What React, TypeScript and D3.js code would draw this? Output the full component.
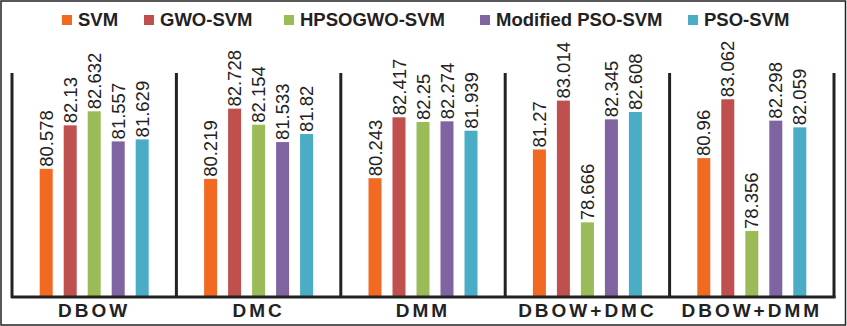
import React from "react";
import * as d3 from "d3";

const categories = ["DBOW", "DMC", "DMM", "DBOW+DMC", "DBOW+DMM"];
const seriesNames = ["SVM", "GWO-SVM", "HPSOGWO-SVM", "Modified PSO-SVM", "PSO-SVM"];
const colors = ["#F26A22", "#C0504D", "#9BBB59", "#8064A2", "#4BACC6"];
const svmValues = [80.578, 80.219, 80.243, 81.27, 80.96];
const gwoValues = [82.13, 82.728, 82.417, 83.014, 83.062];
const hpsogwoValues = [82.632, 82.154, 82.25, 78.666, 78.356];
const modPsoValues = [81.557, 81.533, 82.274, 82.345, 82.298];
const psoValues = [81.629, 81.82, 81.939, 82.608, 82.059];
const series = [svmValues, gwoValues, hpsogwoValues, modPsoValues, psoValues];
const yDomain = [76, 84];
const legendX = [62, 144, 284, 480, 688];

export default function App() {
  const W = 847, H = 326;
  const x0 = d3.scaleBand<string>().domain(categories).range([12, 834]).paddingInner(0).paddingOuter(0);
  const y = d3.scaleLinear().domain(yDomain).range([297, 73]);
  const barStep = 24, barW = 13;
  const font = "'Liberation Sans', Arial, Helvetica, sans-serif";
  return (
    <svg width={W} height={H} style={{ position: "absolute", left: 0, top: 0 }} fontFamily={font}>
      <rect x={0} y={0} width={W} height={H} fill="#fff" />
      <rect x={1} y={1} width={W - 2.5} height={H - 2} fill="none" stroke="#222" strokeWidth={1.5} />
      {/* legend */}
      {seriesNames.map((s, i) => (
        <g key={s}>
          <rect x={legendX[i]} y={15} width={10} height={10} fill={colors[i]} />
          <text x={legendX[i] + 16} y={26} fontSize={18.5} fontWeight="bold" fill="#222">{s}</text>
        </g>
      ))}
      {/* bars */}
      {categories.map((c, ci) => {
        const gx = x0(c)!;
        const gw = x0.bandwidth();
        const start = gx + gw / 2 - (barStep * 5 - (barStep - barW)) / 2;
        return (
          <g key={c}>
            {series.map((vals, si) => {
              const v = vals[ci];
              const bx = start + si * barStep;
              const by = y(v);
              return (
                <g key={si}>
                  <rect x={bx} y={by} width={barW} height={y(yDomain[0]) - by} fill={colors[si]} />
                  <text transform={`translate(${bx + barW / 2 + 6.5},${by - 2}) rotate(-90)`} fontSize={18.5} fill="#222">{String(v)}</text>
                </g>
              );
            })}
            <text x={gx + gw / 2} y={317} textAnchor="middle" fontSize={19} fontWeight="bold" letterSpacing={3} fill="#222">{c}</text>
          </g>
        );
      })}
      {/* dividers */}
      {[...categories.map((c) => x0(c)!), 834].map((xx, i) => (
        <line key={i} x1={xx} x2={xx} y1={73} y2={298} stroke="#222" strokeWidth={3} />
      ))}
      <line x1={11} x2={835.5} y1={297} y2={297} stroke="#222" strokeWidth={3} />
    </svg>
  );
}
